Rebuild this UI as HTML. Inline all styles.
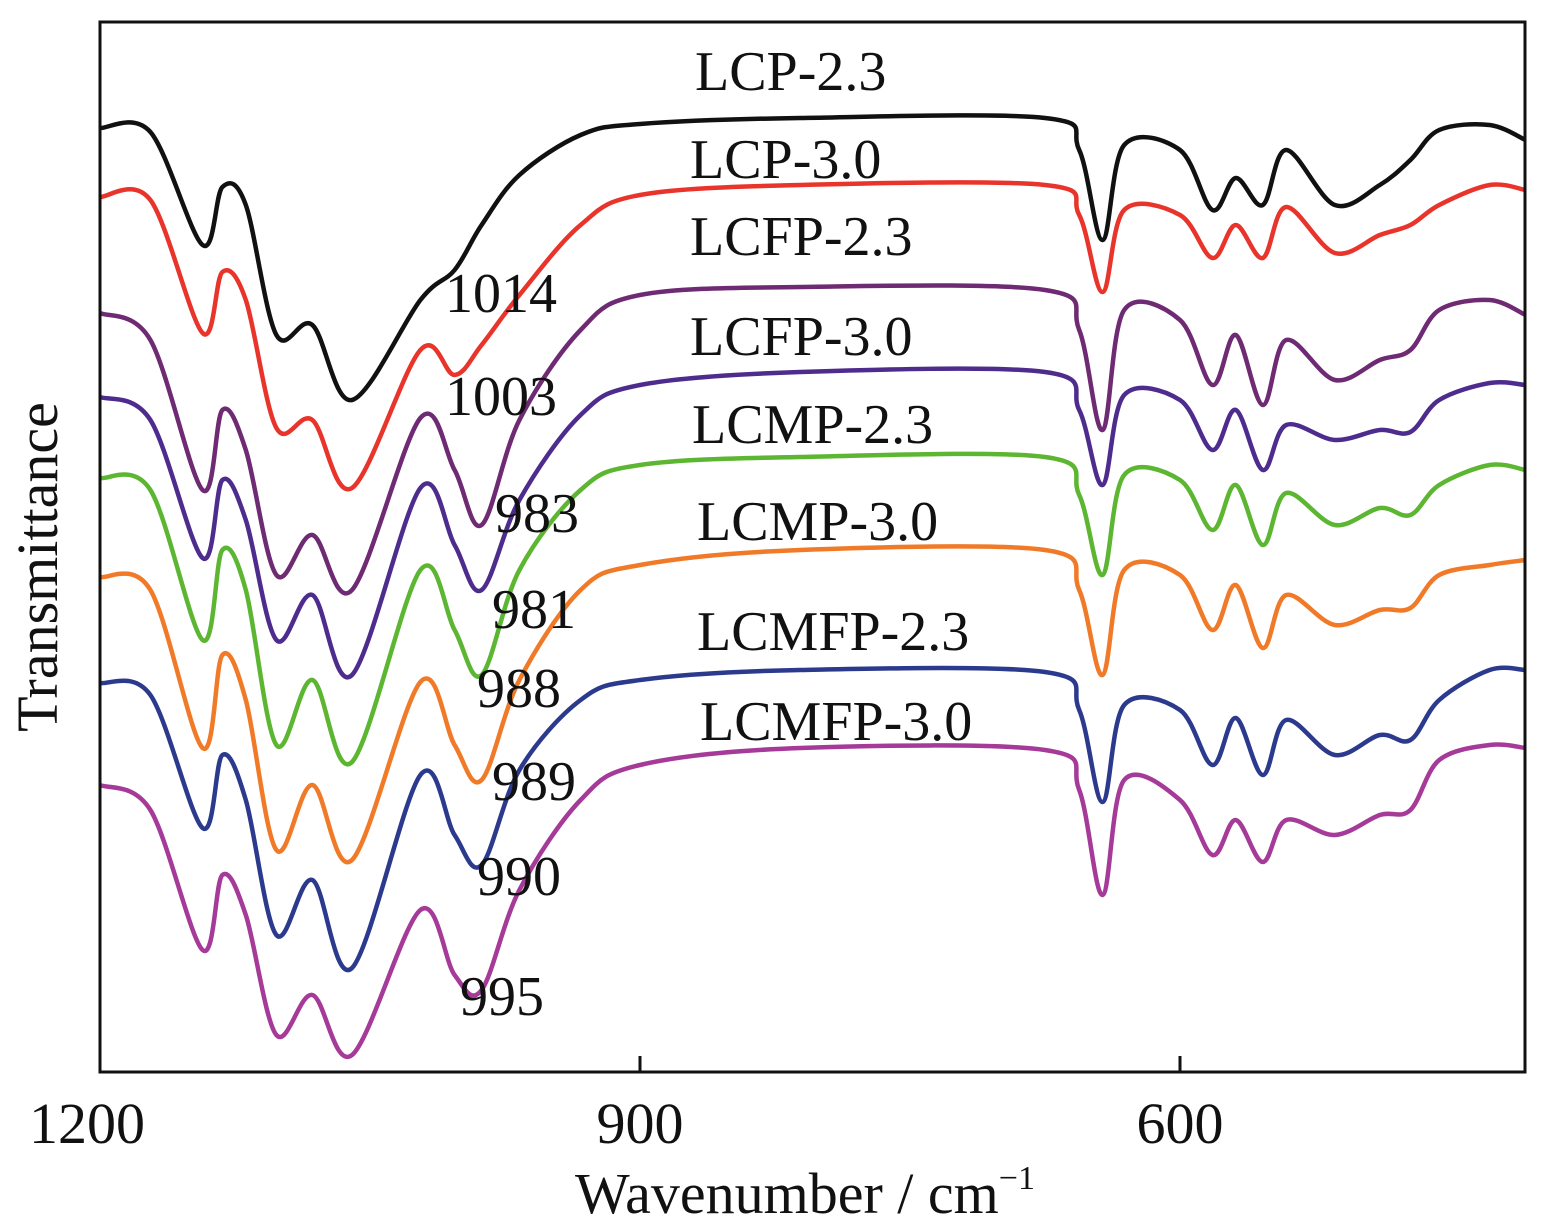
<!DOCTYPE html>
<html><head><meta charset="utf-8">
<style>
html,body{margin:0;padding:0;background:#fff;}
svg{display:block;}
text{font-family:"Liberation Serif",serif;fill:#111;}
</style></head>
<body>
<svg id="chart" width="1556" height="1232" viewBox="0 0 1556 1232">
<g id="series"></g>
<rect x="100" y="22" width="1425" height="1050" fill="none" stroke="#111" stroke-width="3"/>
<g id="axes"></g>
<text x="805" y="1213" font-size="58" text-anchor="middle">Wavenumber / cm<tspan font-size="34" dy="-24">−1</tspan></text>
<text transform="translate(57,567) rotate(-90)" font-size="58" text-anchor="middle">Transmittance</text>
<g id="labels"></g>
</svg>
<script>
const wavenumbers=[1200,1172,1143,1132,1119,1102,1082,1060,1022,1003,988,967,933,900,811,675,656,643,631,600,582,569,554,541,514,489,472,456,428,408];
const seriesNames=["LCP-2.3","LCP-3.0","LCFP-2.3","LCFP-3.0","LCMP-2.3","LCMP-3.0","LCMFP-2.3","LCMFP-3.0"];
const seriesColors=["#111111","#e8342a","#6e2a72","#4e2c8e","#5cb632","#f07a28","#2c3a8e","#a53a98"];
const sLCP23=[128,132,245,187,205,335,325,400,300,270,225,175,135,124,118,118,150,240,145,150,210,178,205,150,205,185,160,130,125,140];
const sLCP30=[197,200,333,272,300,428,420,488,350,375,345,295,225,195,185,185,215,292,210,215,258,225,258,207,253,235,225,205,185,190];
const sLCFP23=[313,340,490,410,450,575,535,590,418,470,525,420,330,295,287,290,330,430,310,320,385,335,405,340,380,360,350,310,300,315];
const sLCFP30=[397,420,558,480,520,640,595,675,488,545,590,500,415,385,372,372,410,485,395,400,450,410,470,425,440,430,432,400,383,385];
const sLCMP23=[478,490,640,550,590,745,680,762,570,630,675,570,490,465,457,457,495,575,475,480,530,485,545,493,525,508,515,485,465,470];
const sLCMP30=[577,590,748,655,700,850,785,860,682,745,780,680,590,565,550,550,590,675,570,575,630,585,648,595,625,610,608,575,565,560];
const sLCMFP23=[683,695,828,755,800,935,880,968,775,835,865,770,700,680,670,672,710,802,705,710,765,718,775,720,755,735,740,700,670,670];
const sLCMFP30=[785,810,950,875,915,1035,995,1055,910,975,990,890,800,765,748,750,790,895,780,800,855,820,862,820,835,815,810,760,745,748];
const allSeries=[sLCP23,sLCP30,sLCFP23,sLCFP30,sLCMP23,sLCMP30,sLCMFP23,sLCMFP30];
const xTicks=[1200,900,600];
const peakLabels=["1014","1003","983","981","988","989","990","995"];
const peakWn=[1014,1003,983,981,988,989,990,995];
const peakOffset=[312,415,532,628,707,800,895,1015];
const nameY=[90,178,255,355,443,540,650,740];

const X0=100,X1=1525,Y0=22,Y1=1072;
const wnMax=1200,wnMin=1200-(X1-X0)/1.8;
function xs(w){return X0+(wnMax-w)/(wnMax-wnMin)*(X1-X0);}
const vMin=22,vMax=1072;
function ys(v){return Y0+(v-vMin)/(vMax-vMin)*(Y1-Y0);}
const NS="http://www.w3.org/2000/svg";
const g=document.getElementById('series');
function pathFrom(pts){
  let d="M"+pts[0][0].toFixed(1)+","+pts[0][1].toFixed(1);
  for(let i=0;i<pts.length-1;i++){
    const p0=pts[Math.max(0,i-1)],p1=pts[i],p2=pts[i+1],p3=pts[Math.min(pts.length-1,i+2)];
    const t=0.5/3;
    const c1=[p1[0]+(p2[0]-p0[0])*t,p1[1]+(p2[1]-p0[1])*t];
    const c2=[p2[0]-(p3[0]-p1[0])*t,p2[1]-(p3[1]-p1[1])*t];
    d+=" C"+c1[0].toFixed(1)+","+c1[1].toFixed(1)+" "+c2[0].toFixed(1)+","+c2[1].toFixed(1)+" "+p2[0].toFixed(1)+","+p2[1].toFixed(1);
  }
  return d;
}
allSeries.forEach((s,k)=>{
  const pts=s.map((v,i)=>[xs(wavenumbers[i]),ys(v)]);
  const p=document.createElementNS(NS,'path');
  p.setAttribute('d',pathFrom(pts));
  p.setAttribute('fill','none');
  p.setAttribute('stroke',seriesColors[k]);
  p.setAttribute('stroke-width','4.5');
  p.setAttribute('stroke-linejoin','round');
  
  
  g.appendChild(p);
});
const ax=document.getElementById('axes');
xTicks.forEach(t=>{
  const x=xs(t);
  if(t!==1200){
    const l=document.createElementNS(NS,'line');
    l.setAttribute('x1',x);l.setAttribute('x2',x);l.setAttribute('y1',Y1);l.setAttribute('y2',Y1-16);
    l.setAttribute('stroke','#111');l.setAttribute('stroke-width','3');
    
    
    ax.appendChild(l);
  }
  const tx=document.createElementNS(NS,'text');
  tx.setAttribute('x',t===1200?x-13:x);tx.setAttribute('y',1143);
  tx.setAttribute('font-size','58');tx.setAttribute('text-anchor','middle');
  tx.textContent=t;
  
  
  ax.appendChild(tx);
});
const lg=document.getElementById('labels');
const nameX=[695,690,690,690,692,697,697,700];
seriesNames.forEach((n,k)=>{
  const t=document.createElementNS(NS,'text');
  t.setAttribute('x',nameX[k]);t.setAttribute('y',nameY[k]);
  t.setAttribute('font-size','56');
  t.textContent=n;
  
  
  lg.appendChild(t);
});
const peakX=[445,445,495,492,477,492,477,460];
peakLabels.forEach((n,k)=>{
  const t=document.createElementNS(NS,'text');
  t.setAttribute('x',peakX[k]);t.setAttribute('y',peakOffset[k]);
  t.setAttribute('font-size','56');
  t.textContent=n;
  
  
  lg.appendChild(t);
});
</script>
</body></html>
